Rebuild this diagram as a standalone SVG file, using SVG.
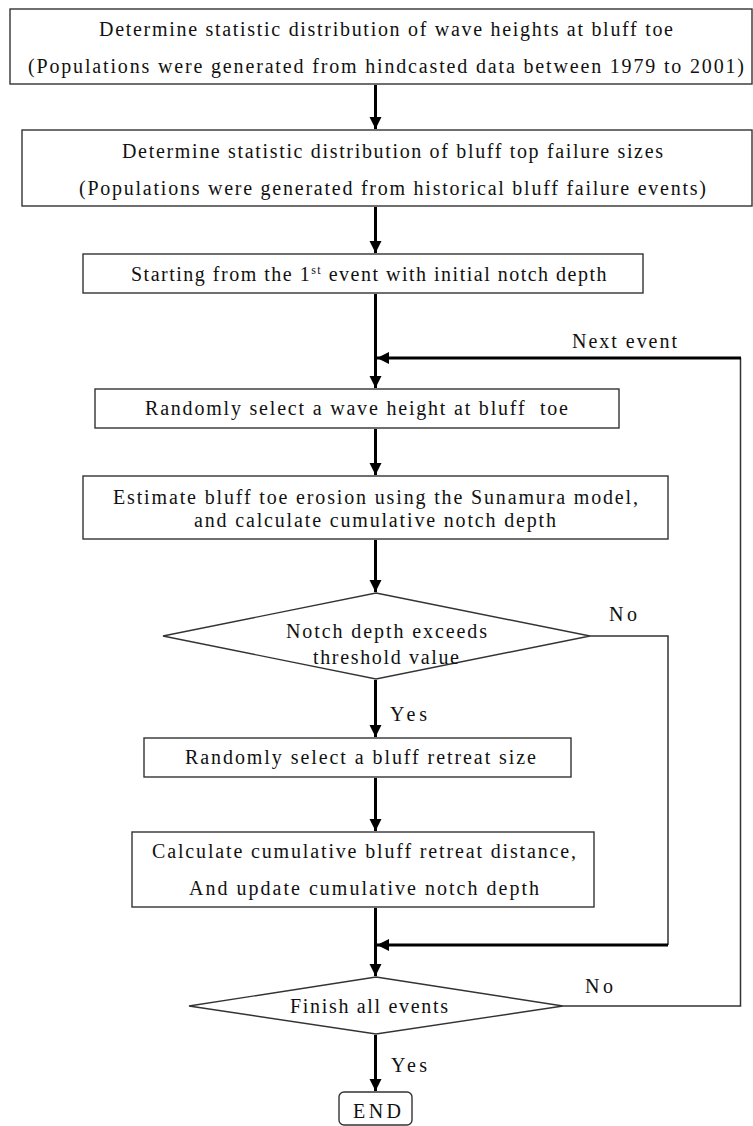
<svg xmlns="http://www.w3.org/2000/svg" width="753" height="1126" viewBox="0 0 753 1126">
<style>
  .box { fill: #fff; stroke: #333; stroke-width: 1.4; }
  .t { font-family: "Liberation Serif", "Times New Roman", serif; font-size: 20px; fill: #111; white-space: pre; }
  .main { fill: none; stroke: #000; stroke-width: 3; }
  .thin { fill: none; stroke: #333; stroke-width: 1.5; }
</style>
<defs>
  <marker id="ah" markerUnits="userSpaceOnUse" markerWidth="13" markerHeight="13" viewBox="0 0 13 13" refX="12" refY="6.5" orient="auto">
    <path d="M0,0.5 L12,6.5 L0,12.5 Z" fill="#000"/>
  </marker>
</defs>
<rect width="753" height="1126" fill="#fff"/>

<g id="connectors">
  <line class="main" x1="375.5" y1="85" x2="375.5" y2="129" marker-end="url(#ah)"/>
  <line class="main" x1="375.5" y1="207" x2="375.5" y2="253" marker-end="url(#ah)"/>
  <line class="main" x1="375.5" y1="294" x2="375.5" y2="388" marker-end="url(#ah)"/>
  <line class="main" x1="375.5" y1="429" x2="375.5" y2="475" marker-end="url(#ah)"/>
  <line class="main" x1="375.5" y1="540" x2="375.5" y2="592" marker-end="url(#ah)"/>
  <line class="main" x1="375.5" y1="680" x2="375.5" y2="737" marker-end="url(#ah)"/>
  <line class="main" x1="375.5" y1="778" x2="375.5" y2="831" marker-end="url(#ah)"/>
  <line class="main" x1="375.5" y1="908" x2="375.5" y2="976" marker-end="url(#ah)"/>
  <line class="main" x1="375.5" y1="1035" x2="375.5" y2="1091" marker-end="url(#ah)"/>
  <path class="thin" d="M590,636 H668 V945"/>
  <line class="main" x1="668" y1="945" x2="377" y2="945" marker-end="url(#ah)"/>
  <path class="thin" d="M563,1006 H740.5 V358"/>
  <line class="main" x1="741" y1="358" x2="377" y2="358" marker-end="url(#ah)"/>
  <text class="t" x="572" y="348" textLength="105" lengthAdjust="spacing">Next event</text>
  <text class="t" x="609" y="621" textLength="28" lengthAdjust="spacing">No</text>
  <text class="t" x="390" y="721" textLength="37" lengthAdjust="spacing">Yes</text>
  <text class="t" x="585" y="993" textLength="28" lengthAdjust="spacing">No</text>
  <text class="t" x="391" y="1072" textLength="36" lengthAdjust="spacing">Yes</text>
</g>

<g id="n1">
  <rect class="box" x="10" y="9" width="742" height="75"/>
  <text class="t" x="99" y="36" textLength="574" lengthAdjust="spacing">Determine statistic distribution of wave heights at bluff toe</text>
  <text class="t" x="28" y="73" textLength="716" lengthAdjust="spacing">(Populations were generated from hindcasted data between 1979 to 2001)</text>
</g>

<g id="n2">
  <rect class="box" x="22" y="130" width="730" height="76"/>
  <text class="t" x="122" y="158" textLength="541" lengthAdjust="spacing">Determine statistic distribution of bluff top failure sizes</text>
  <text class="t" x="79" y="195" textLength="627" lengthAdjust="spacing">(Populations were generated from historical bluff failure events)</text>
</g>

<g id="n3">
  <rect class="box" x="83" y="254" width="560" height="39"/>
  <text class="t" x="131" y="281" letter-spacing="1.5">Starting from the 1<tspan font-size="12" dy="-7">st</tspan><tspan dy="7"> event with initial notch depth</tspan></text>
</g>

<g id="n4">
  <rect class="box" x="95" y="389" width="524" height="39"/>
  <text class="t" x="145" y="415" textLength="423" lengthAdjust="spacing">Randomly select a wave height at bluff  toe</text>
</g>

<g id="n5">
  <rect class="box" x="83" y="476" width="585" height="63"/>
  <text class="t" x="113" y="504" textLength="525" lengthAdjust="spacing">Estimate bluff toe erosion using the Sunamura model,</text>
  <text class="t" x="194" y="527" textLength="362" lengthAdjust="spacing">and calculate cumulative notch depth</text>
</g>

<g id="n6">
  <polygon class="box" points="376,593 590,636 376,679 163,636"/>
  <text class="t" x="286" y="638" textLength="201" lengthAdjust="spacing">Notch depth exceeds</text>
  <text class="t" x="313" y="664" textLength="146" lengthAdjust="spacing">threshold value</text>
</g>

<g id="n7">
  <rect class="box" x="144" y="738" width="427" height="39"/>
  <text class="t" x="185" y="764" textLength="351" lengthAdjust="spacing">Randomly select a bluff retreat size</text>
</g>

<g id="n8">
  <rect class="box" x="132" y="832" width="462" height="75"/>
  <text class="t" x="152" y="858" textLength="424" lengthAdjust="spacing">Calculate cumulative bluff retreat distance,</text>
  <text class="t" x="189" y="895" textLength="350" lengthAdjust="spacing">And update cumulative notch depth</text>
</g>

<g id="n9">
  <polygon class="box" points="376,977 563,1006 376,1034 189,1006"/>
  <text class="t" x="290" y="1013" textLength="158" lengthAdjust="spacing">Finish all events</text>
</g>

<g id="n10">
  <rect class="box" x="339" y="1092" width="73" height="33" rx="5"/>
  <text class="t" x="353" y="1118" font-size="21" textLength="48" lengthAdjust="spacing">END</text>
</g>
</svg>
